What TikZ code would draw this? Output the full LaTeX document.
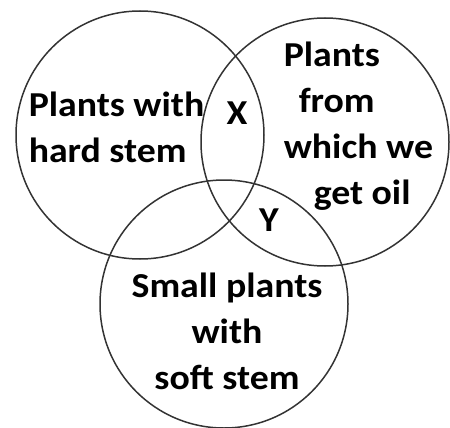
\documentclass[tikz,border=0pt]{standalone}
\usepackage{fontspec}
\setmainfont{Carlito}[FakeStretch=1.08]

\begin{document}
\begin{tikzpicture}[x=1pt,y=-1pt,line width=1.5pt,
  set/.style={draw=black!80,circle,minimum size=248pt,inner sep=0pt},
  label/.style={font=\fontsize{35}{46}\selectfont\bfseries,inner sep=0pt}]
  \useasboundingbox (0,0) rectangle (450,428);
  % los tres conjuntos
  \node[set] (hard) at (140,135){};
  \node[set] (oil) at (325,142){};
  \node[set] (soft) at (224,304){};
  % textos de cada conjunto
  \node[label,align=left,anchor=west] (hardtxt) at (28,127){Plants with\\hard stem};
  \node[label,align=left,anchor=west] (oiltxt) at (283,126){Plants\\\hspace*{15pt}from\\which we\\\hspace*{30pt}get oil};
  \node[label,align=center] (softtxt) at (227,331){Small plants\\with\\soft stem};
  % intersecciones
  \node[label] (x) at (237,113){X};
  \node[label] (y) at (269,220){Y};
\end{tikzpicture}
\end{document}
